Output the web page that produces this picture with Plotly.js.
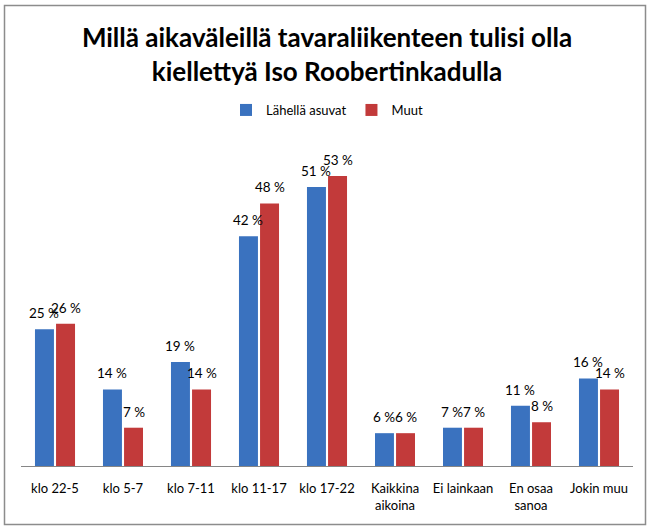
<!DOCTYPE html>
<html>
<head>
<meta charset="utf-8">
<script src="https://cdn.plot.ly/plotly-3.0.1.min.js"></script>
<style>
html,body{margin:0;padding:0;background:#fff;}
#chart{width:654px;height:530px;}
</style>
</head>
<body>
<div id="chart"></div>
<script>
const categories = ['klo 22-5','klo 5-7','klo 7-11','klo 11-17','klo 17-22','Kaikkina<br>aikoina','Ei lainkaan','En osaa<br>sanoa','Jokin muu'];
const lahellaAsuvat = [25, 14, 19, 42, 51, 6, 7, 11, 16];
const muut = [26, 7, 14, 48, 53, 6, 7, 8, 14];
const seriesNames = ['Lähellä asuvat', 'Muut'];

const labelFont = {family: 'Lato, "Open Sans", sans-serif', size: 13, color: '#000'};
const valueFont = {family: 'Lato, "Open Sans", sans-serif', size: 13.5, color: '#000'};

const traces = [
  {type:'bar', name:seriesNames[0], x:categories, y:lahellaAsuvat,
   marker:{color:'#3a72bf'}, hoverinfo:'skip'},
  {type:'bar', name:seriesNames[1], x:categories, y:muut,
   marker:{color:'#c23a3a'}, hoverinfo:'skip'}
];

const annotations = [];
[[lahellaAsuvat, -11], [muut, 11]].forEach(([vals, dx]) => {
  vals.forEach((v, i) => {
    annotations.push({x: categories[i], y: v, xref: 'x', yref: 'y', text: v + ' %',
      showarrow: false, xanchor: 'center', yanchor: 'bottom', xshift: dx, yshift: 6,
      font: valueFont});
  });
});

const L = 21, R = 21, T = 150, B = 64;
const W = 654, H = 530;
const pw = W - L - R, ph = H - T - B;
function px2paperX(x){ return (x - L) / pw; }
function px2paperY(y){ return (H - B - y) / ph; }

const layout = {
  width: W, height: H,
  margin: {l: L, r: R, t: T, b: B, pad: 0},
  paper_bgcolor: '#fff', plot_bgcolor: '#fff',
  font: labelFont,
  title: {
    text: '<b>Millä aikaväleillä tavaraliikenteen tulisi olla<br>kiellettyä Iso Roobertinkadulla</b>',
    font: {family: 'Lato, "Open Sans", sans-serif', size: 26, color: '#000'},
    x: 0.5, xref: 'container', xanchor: 'center',
    y: 0.911, yref: 'container', yanchor: 'top'
  },
  showlegend: true,
  legend: {orientation: 'h', x: 0.5, xanchor: 'center', xref: 'paper',
           y: px2paperY(95), yanchor: 'top', yref: 'paper',
           font: labelFont, itemwidth: 30, traceorder: 'normal'},
  barmode: 'group', bargap: 0.38, bargroupgap: 0.1,
  xaxis: {showline: true, linecolor: '#868686', linewidth: 1, ticks: '', showgrid: false,
          tickfont: labelFont, ticklabelstandoff: 10, fixedrange: true},
  yaxis: {visible: false, range: [0, (H - B - T) / 5.47], showgrid: false, zeroline: false, fixedrange: true},
  annotations: annotations,
  shapes: [{type: 'rect', xref: 'paper', yref: 'paper',
            x0: px2paperX(4.5), x1: px2paperX(645.5), y0: px2paperY(524.5), y1: px2paperY(5.5),
            line: {color: '#8c8c8c', width: 1.5}, fillcolor: 'rgba(0,0,0,0)', layer: 'below'}]
};

Plotly.newPlot('chart', traces, layout, {displayModeBar: false, staticPlot: true});
</script>
</body>
</html>
